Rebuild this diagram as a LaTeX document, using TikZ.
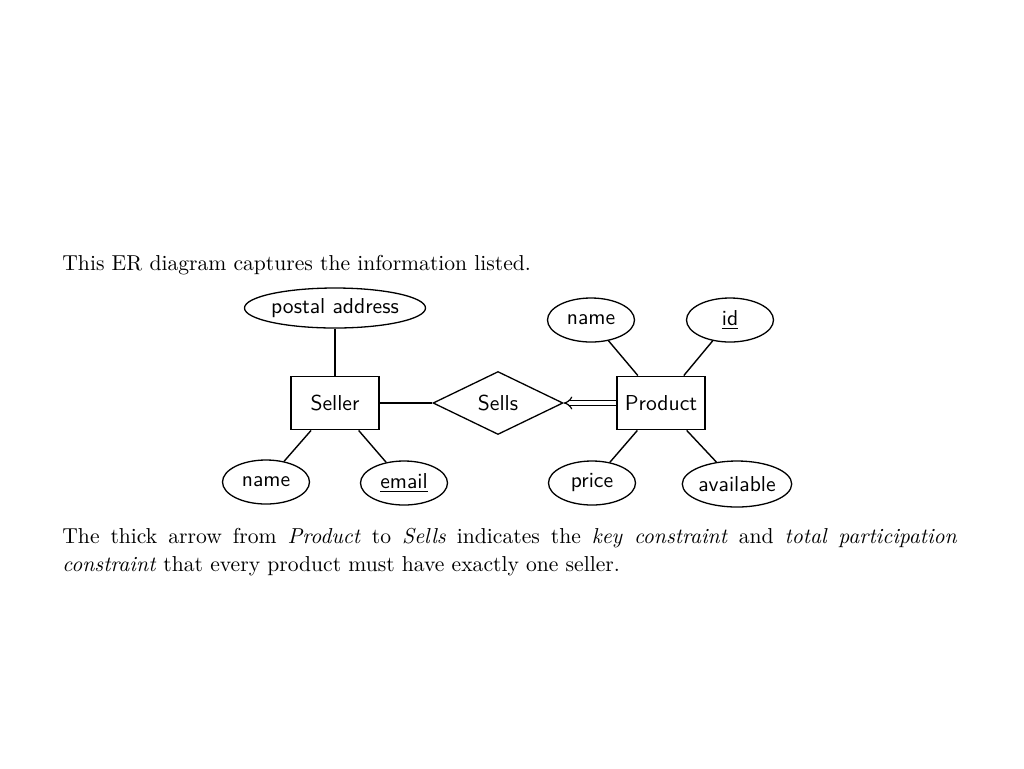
\documentclass[tikz,border=0pt]{standalone}
\usetikzlibrary{shapes.geometric,arrows.meta}
\begin{document}
\begin{tikzpicture}[x=0.5pt,y=-0.5pt,
  font=\fontsize{10.8}{14}\selectfont,
  dfont/.style={font=\sffamily\fontsize{10.8}{13}\selectfont},
  entity/.style={draw, line width=0.95pt, minimum width=44pt, minimum height=26.5pt, inner sep=0pt, dfont},
  attr/.style={draw, ellipse, line width=0.65pt, minimum width=43.5pt, minimum height=22pt, inner sep=0pt, dfont},
  rel/.style={draw, diamond, line width=0.65pt, minimum width=65pt, minimum height=31.5pt, inner sep=0pt, dfont},
  link/.style={line width=0.7pt}]
\useasboundingbox (0,0) rectangle (1024,768);
\fill[white] (0,0) rectangle (1024,768);
% entities and relationship
\node[entity] (seller) at (335,403) {Seller};
\node[entity] (product) at (661,403) {Product};
\node[rel] (sells) at (498,403) {Sells};
% attributes
\node[attr, minimum width=90.5pt, minimum height=20pt] (paddr) at (335,308) {postal address};
\node[attr] (sname) at (266,482) {name};
\node[attr] (email) at (404,483) {\underline{email}};
\node[attr] (pname) at (591,320) {name};
\node[attr] (pid) at (730,320) {\underline{id}};
\node[attr] (price) at (592,483) {price};
\node[attr, minimum width=54.5pt, minimum height=23pt] (avail) at (737,484) {available};
% connectors
\draw[link] (paddr) -- (seller);
\draw[link] (seller) -- (sname);
\draw[link] (seller) -- (email);
\draw[link] (seller) -- (sells);
\draw[link] (product) -- (pname);
\draw[link] (product) -- (pid);
\draw[link] (product) -- (price);
\draw[link] (product) -- (avail);
\draw[line width=0.6pt, double, double distance=1.6pt, -{Implies[scale=1.35]}] (product) -- (sells.east);
% text
\node[anchor=base west, inner sep=0pt] (intro) at (62,270) {This ER diagram captures the information listed.};
\node[anchor=north west, inner sep=0pt, text width=447.5pt, align=justify] (note) at (62,528)
  {The thick arrow from \textit{Product} to \textit{Sells} indicates the \textit{key constraint} and \textit{total participation}\linebreak \textit{constraint} that every product must have exactly one seller.};
\end{tikzpicture}
\end{document}
